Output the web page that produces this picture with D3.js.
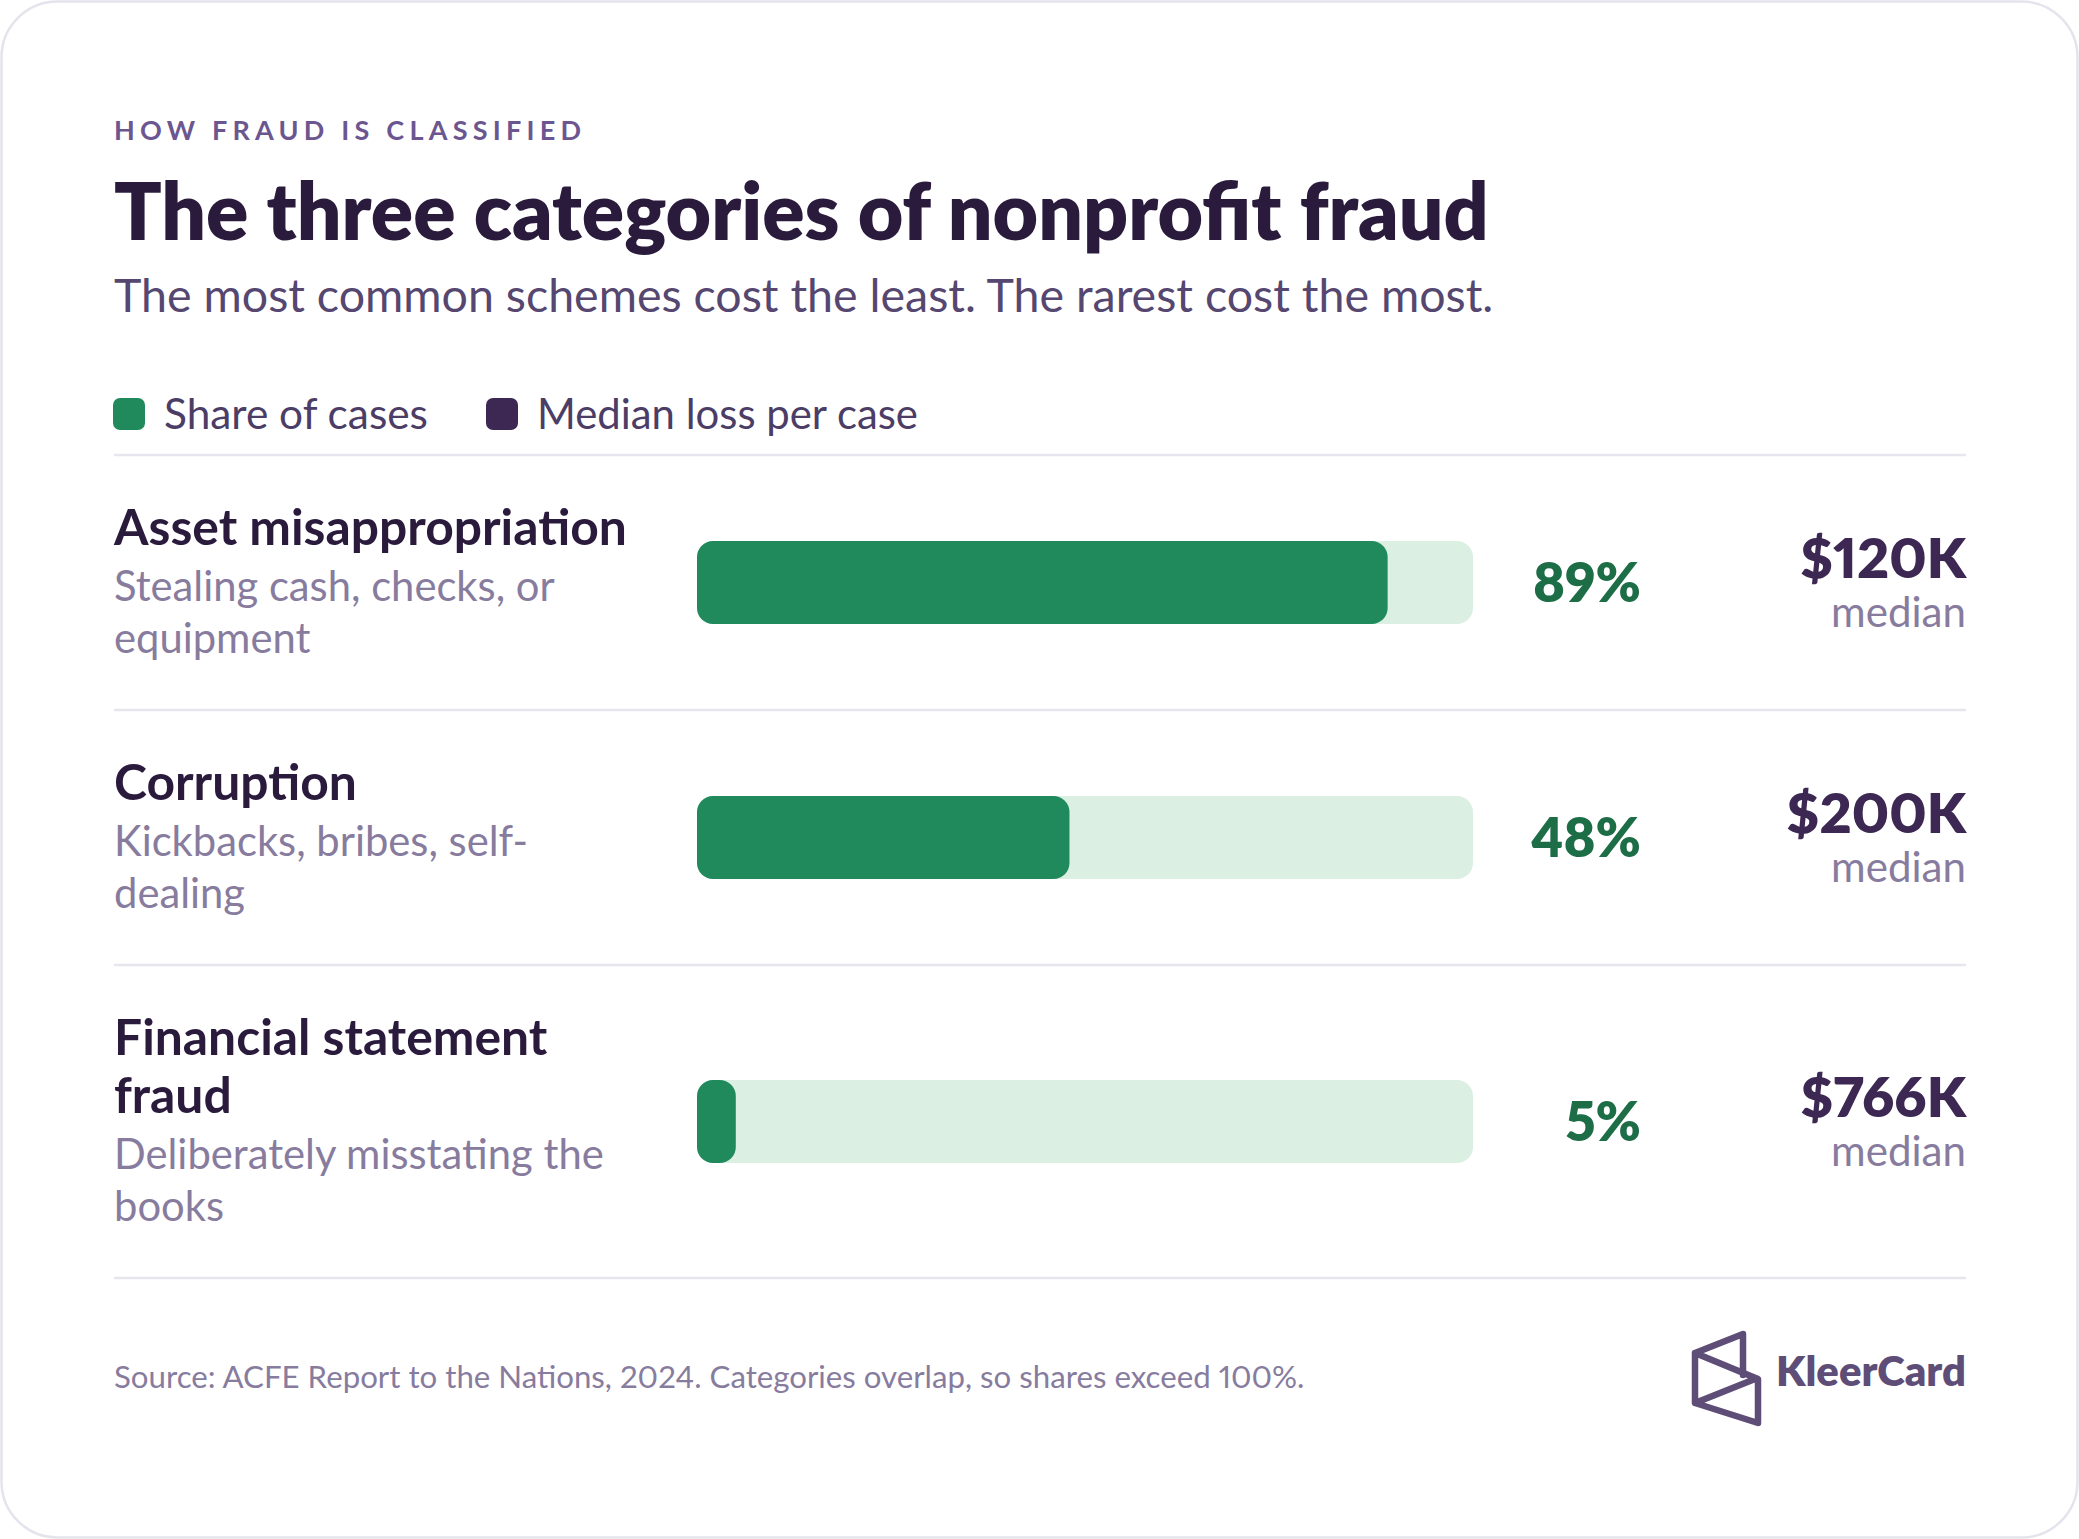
<!DOCTYPE html>
<html><head><meta charset="utf-8">
<script src="https://cdn.jsdelivr.net/npm/d3@7"></script>
<style>html,body{margin:0;padding:0;background:#ffffff}svg{display:block}
text{font-variant-numeric:proportional-nums;font-feature-settings:"pnum" 1}</style>
</head><body><svg id="chart"></svg>
<script>
// ---------------- DATA ----------------
const categories = ["Asset misappropriation", "Corruption", "Financial statement fraud"];
const categoryLines = [["Asset misappropriation"], ["Corruption"], ["Financial statement", "fraud"]];
const descriptionLines = [
  ["Stealing cash, checks, or", "equipment"],
  ["Kickbacks, bribes, self-", "dealing"],
  ["Deliberately misstating the", "books"]
];
const shareOfCases = [89, 48, 5];          // percent of cases
const medianLossK = [120, 200, 766];       // median loss per case, $K
const legendLabels = ["Share of cases", "Median loss per case"];
const eyebrow = "HOW FRAUD IS CLASSIFIED";
const titleText = "The three categories of nonprofit fraud";
const subtitleText = "The most common schemes cost the least. The rarest cost the most.";
const footerText = "Source: ACFE Report to the Nations, 2024. Categories overlap, so shares exceed 100%.";
const brandText = "KleerCard";

// ---------------- LAYOUT ----------------
const W = 2079, H = 1539;
const FONT = "Lato, 'Noto Sans', sans-serif";
const C = {
  eyebrow: "#6b5690", title: "#2a1b3d", subtitle: "#55476f", legend: "#4b3d66",
  desc: "#877c9e", fill: "#218a5c", track: "#dbf0e3", pct: "#1d6d47",
  value: "#3c2853", rule: "#e6e6ee", logo: "#5e4d77", card: "#e4e4ec"
};
const L = 114, R = 1966;

const svg = d3.select("#chart").attr("width", W).attr("height", H)
  .attr("viewBox", `0 0 ${W} ${H}`);

svg.append("rect").attr("x", 1.5).attr("y", 1.5).attr("width", W - 3).attr("height", H - 3)
  .attr("rx", 56).attr("fill", "#ffffff").attr("stroke", C.card).attr("stroke-width", 2.5);

function fitWidth(sel, target) {
  const w = sel.node().getComputedTextLength();
  const fs = parseFloat(sel.attr("font-size"));
  const nf = fs * target / w;
  sel.attr("font-size", nf);
  return nf;
}
function txt(x, y, s, size, weight, color, anchor) {
  return svg.append("text").attr("x", x).attr("y", y).text(s)
    .attr("font-family", FONT).attr("font-size", size).attr("font-weight", weight)
    .attr("fill", color).attr("text-anchor", anchor || "start");
}

// Eyebrow (letter-spaced caps)
const eb = txt(L, 140, eyebrow, 27, 700, C.eyebrow);
{
  const w0 = eb.node().getComputedTextLength();
  eb.attr("letter-spacing", (467 - w0) / (eyebrow.length - 1));
}
// Title + subtitle
fitWidth(txt(L, 240, titleText, 80, 800, C.title), 1375);
fitWidth(txt(L, 312, subtitleText, 42, 400, C.subtitle), 1380);

// Legend
const legendColors = [C.fill, C.value];
const legendX = [113, 486];
const legendTextW = [264, 381];
legendLabels.forEach((lab, i) => {
  svg.append("rect").attr("x", legendX[i]).attr("y", 398).attr("width", 32).attr("height", 32)
    .attr("rx", 7).attr("fill", legendColors[i]);
  fitWidth(txt(legendX[i] + 51, 429, lab, 36, 400, C.legend), legendTextW[i]);
});

// Rules + rows
const x = d3.scaleLinear().domain([0, 100]).range([697, 1473]);
const rowPad = 93, titleLH = 58, descLH = 52, barH = 83;
const rowHeights = categories.map((d, i) => rowPad + categoryLines[i].length * titleLH + descriptionLines[i].length * descLH);
const rowTops = [];
rowHeights.reduce((acc, h) => { rowTops.push(acc); return acc + h; }, 455);
const ruleYs = [455].concat(rowTops.map((t, i) => t + rowHeights[i]));

svg.selectAll("line.rule").data(ruleYs).join("line").attr("class", "rule")
  .attr("x1", L).attr("x2", R).attr("y1", d => d).attr("y2", d => d)
  .attr("stroke", C.rule).attr("stroke-width", 2.5);

// measure reference sizes
const probeTitle = txt(0, -100, categoryLines[0][0], 46, 700, C.title);
const titleFS = fitWidth(probeTitle, 513); probeTitle.remove();
const probeDesc = txt(0, -100, descriptionLines[2][0], 34, 400, C.desc);
const descFS = fitWidth(probeDesc, 490); probeDesc.remove();
const probePct = txt(0, -100, shareOfCases[1] + "%", 54, 800, C.pct);
const pctFS = fitWidth(probePct, 110); probePct.remove();
const probeVal = txt(0, -100, "$" + medianLossK[1] + "K", 62, 800, C.value);
const valFS = fitWidth(probeVal, 180); probeVal.remove();
const probeMed = txt(0, -100, "median", 34, 400, C.desc);
const medFS = fitWidth(probeMed, 135); probeMed.remove();

const rows = svg.selectAll("g.row").data(categories).join("g").attr("class", "row")
  .attr("transform", (d, i) => `translate(0,${rowTops[i]})`);

rows.each(function (d, i) {
  const g = d3.select(this);
  const h = rowHeights[i], cy = h / 2;
  categoryLines[i].forEach((line, j) => {
    g.append("text").attr("x", L).attr("y", 90 + j * titleLH).text(line)
      .attr("font-family", FONT).attr("font-size", titleFS).attr("font-weight", 700).attr("fill", C.title);
  });
  const dStart = 90 + categoryLines[i].length * titleLH - 2;
  descriptionLines[i].forEach((line, j) => {
    g.append("text").attr("x", L).attr("y", dStart + j * descLH).text(line)
      .attr("font-family", FONT).attr("font-size", descFS).attr("font-weight", 400).attr("fill", C.desc);
  });
  // track + bar
  g.append("rect").attr("x", x(0)).attr("y", cy - barH / 2).attr("width", x(100) - x(0)).attr("height", barH)
    .attr("rx", 16).attr("fill", C.track);
  g.append("rect").attr("x", x(0)).attr("y", cy - barH / 2).attr("width", x(shareOfCases[i]) - x(0)).attr("height", barH)
    .attr("rx", 16).attr("fill", C.fill);
  // share label
  g.append("text").attr("x", 1641).attr("y", cy + 19).text(shareOfCases[i] + "%")
    .attr("font-family", FONT).attr("font-size", pctFS).attr("font-weight", 800).attr("fill", C.pct).attr("text-anchor", "end");
  // median loss
  g.append("text").attr("x", R).attr("y", cy - 5).text("$" + medianLossK[i] + "K")
    .attr("font-family", FONT).attr("font-size", valFS).attr("font-weight", 800).attr("fill", C.value).attr("text-anchor", "end");
  g.append("text").attr("x", R).attr("y", cy + 44).text("median")
    .attr("font-family", FONT).attr("font-size", medFS).attr("font-weight", 400).attr("fill", C.desc).attr("text-anchor", "end");
});

// Footer
fitWidth(txt(L, 1388, footerText, 28, 400, C.desc), 1191);

// Logo
const lg = svg.append("g").attr("transform", "translate(1695,1334)");
lg.append("path")
  .attr("d", "M48,41 L48,0 L0,19 L63,45 L63,89 L0,69 L0,19 M0,69 L60,45")
  .attr("fill", "none").attr("stroke", C.logo).attr("stroke-width", 6.5)
  .attr("stroke-linejoin", "round").attr("stroke-linecap", "round");
fitWidth(txt(1776, 1386, brandText, 39, 800, C.logo), 190);
</script></body></html>
